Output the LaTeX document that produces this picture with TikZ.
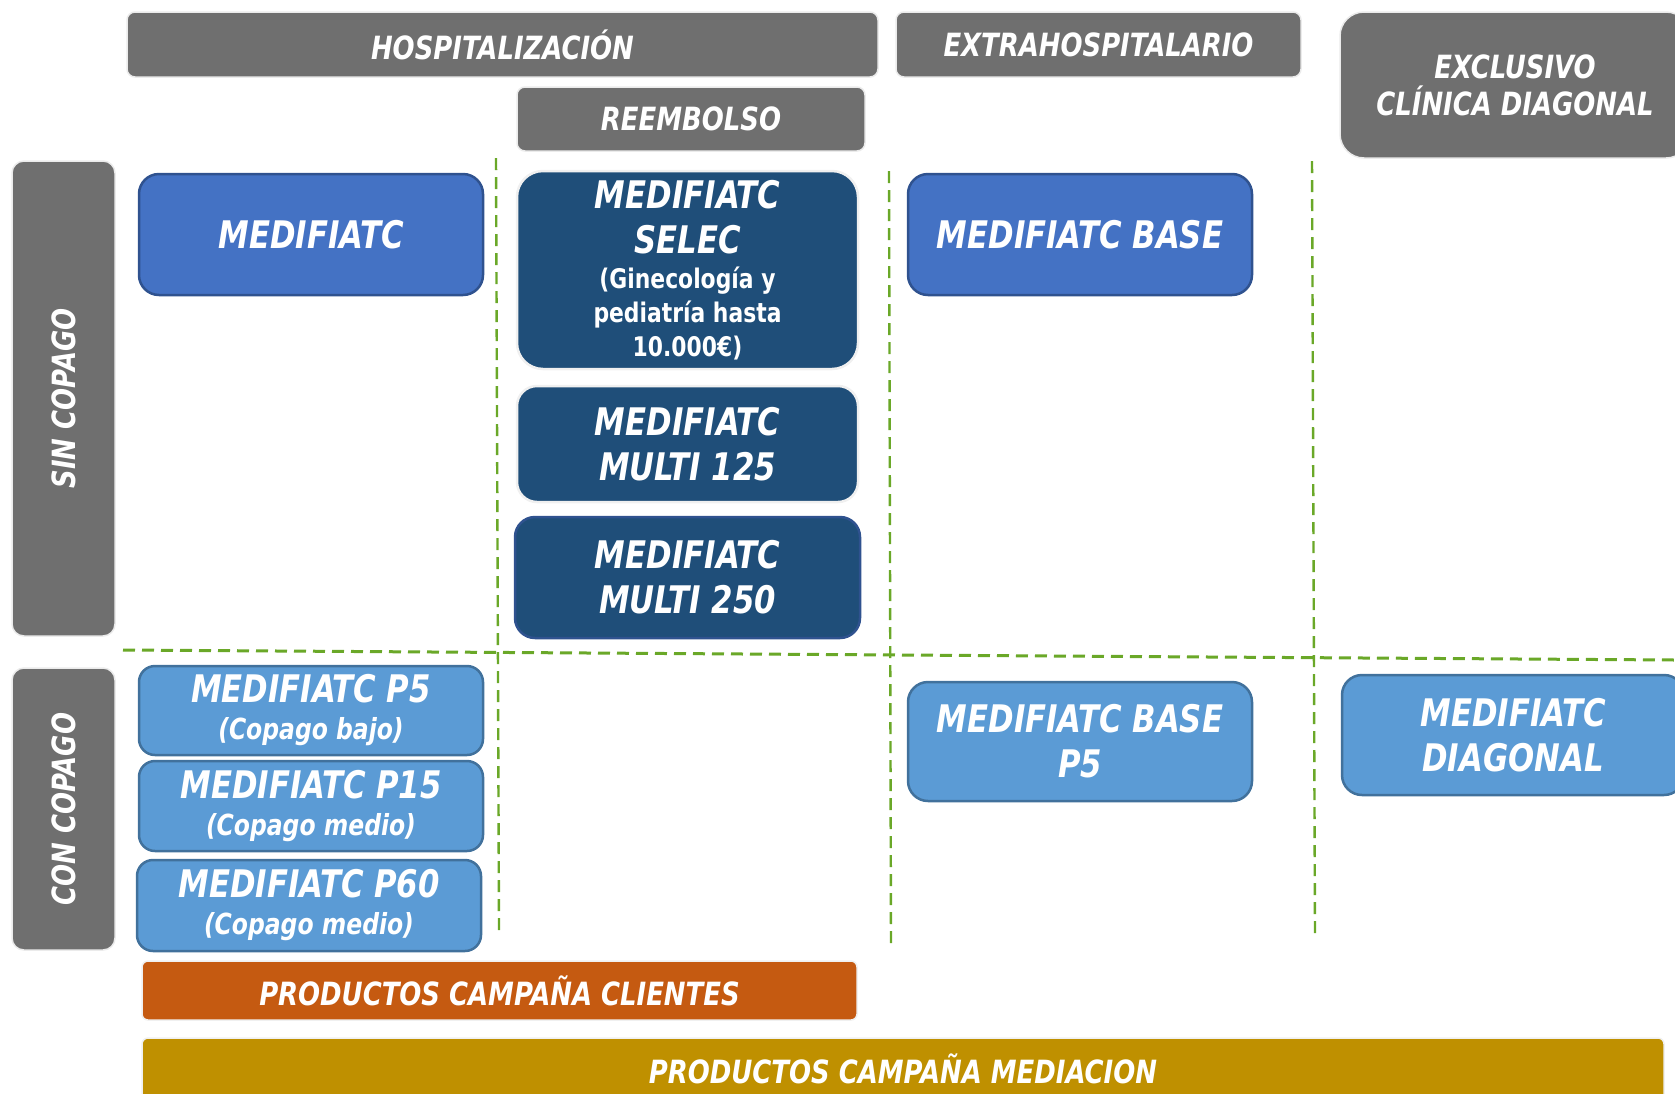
\documentclass[tikz,border=0pt]{standalone}
\usepackage{fontspec}
\setmainfont{DejaVu Sans Condensed}[FakeStretch=0.9]
\definecolor{hdrgray}{HTML}{6F6F6F}
\definecolor{medblue}{HTML}{4472C4}
\definecolor{medblueline}{HTML}{2F528F}
\definecolor{darkblue}{HTML}{1F4E79}
\definecolor{lightblue}{HTML}{5B9BD5}
\definecolor{lightblueline}{HTML}{41719C}
\definecolor{campaign}{HTML}{C55A11}
\definecolor{mediation}{HTML}{BF9000}
\definecolor{divgreen}{RGB}{106,168,40}
\newcommand\prodfont{\fontsize{38}{45}\selectfont\bfseries\itshape}
\newcommand\subtxt{\fontsize{29}{34}\selectfont}
\newcommand\selectxt{\fontsize{27}{34}\selectfont\bfseries\upshape}
\tikzset{
	hdr/.style={fill=hdrgray, draw=black!8, line width=1.5pt, rounded corners=8pt, text=white, inner sep=0pt, align=center,
		font=\fontsize{32}{37}\selectfont\bfseries\itshape},
	side/.style={hdr, rotate=90, rounded corners=12pt},
	prod/.style={rounded corners=20pt, line width=2.5pt, text=white, inner sep=0pt, align=center, font=\prodfont},
	prodA/.style={prod, fill=medblue, draw=medblueline},
	prodB/.style={prod, fill=darkblue, draw=black!6},
	prodC/.style={prod, fill=lightblue, draw=lightblueline, rounded corners=16pt},
	band/.style={hdr, draw=black!6, rounded corners=6pt},
	divider/.style={divgreen, line width=2.4pt, dash pattern=on 12pt off 7pt}
}
\begin{document}
\begin{tikzpicture}[x=1pt, y=-1pt]
\useasboundingbox (0,0) rectangle (1675,1093);

\draw[divider, line width=3pt] (123,650) -- (1675,660);
\draw[divider] (496,158) -- (499,932);
\draw[divider] (889,171) -- (891,948);
\draw[divider] (1312,161) -- (1315,938);

\node[hdr, minimum width=751pt, minimum height=65pt] (hosp) at (502.5,44.5) {HOSPITALIZACIÓN};
\node[hdr, minimum width=405pt, minimum height=65pt] (extra) at (1098.5,44.5) {EXTRAHOSPITALARIO};
\node[hdr, minimum width=350pt, minimum height=146pt, rounded corners=24pt] (excl) at (1515,85) {EXCLUSIVO\\CLÍNICA DIAGONAL};
\node[hdr, minimum width=348pt, minimum height=64pt] (reem) at (691,119) {REEMBOLSO};
\node[side, minimum width=475pt, minimum height=103pt] (sin) at (63.5,398.5) {SIN COPAGO};
\node[side, minimum width=282pt, minimum height=103pt] (con) at (63.5,809) {CON COPAGO};

\node[prodA, minimum width=344pt, minimum height=121pt] (medi) at (311,234.5) {MEDIFIATC};
\node[prodB, minimum width=341pt, minimum height=198pt, rounded corners=26pt] (selec) at (687.5,270)
	{MEDIFIATC\\SELEC\\[-10pt]\selectxt (Ginecología y\\[-11pt]\selectxt pediatría hasta\\[-11pt]\selectxt 10.000€)};
\node[prodB, minimum width=341pt, minimum height=116pt] (multi125) at (687.5,444) {MEDIFIATC\\MULTI 125};
\node[prodB, draw=medblueline, minimum width=345pt, minimum height=121pt] (multi250) at (687.5,577.5) {MEDIFIATC\\MULTI 250};
\node[prodA, minimum width=344pt, minimum height=121pt] (base) at (1080,234.5) {MEDIFIATC BASE};

\node[prodC, minimum width=344pt, minimum height=89pt] (p5) at (311,710.5) {MEDIFIATC P5\\[-8pt]\subtxt\bfseries\itshape (Copago bajo)};
\node[prodC, minimum width=344pt, minimum height=90pt] (p15) at (311,806) {MEDIFIATC P15\\[-8pt]\subtxt\bfseries\itshape (Copago medio)};
\node[prodC, minimum width=344pt, minimum height=91pt] (p60) at (309,905.5) {MEDIFIATC P60\\[-8pt]\subtxt\bfseries\itshape (Copago medio)};
\node[prodC, minimum width=344pt, minimum height=119pt, rounded corners=20pt] (basep5) at (1080,741.5) {MEDIFIATC BASE\\P5};
\node[prodC, minimum width=342pt, minimum height=120pt, rounded corners=20pt] (diag) at (1513,735) {MEDIFIATC\\DIAGONAL};

\node[band, fill=campaign, minimum width=715pt, minimum height=59pt] (clientes) at (499.5,990.5) {PRODUCTOS CAMPAÑA CLIENTES};
\node[band, fill=mediation, minimum width=1522pt, minimum height=62pt] (mediacion) at (903,1069) {PRODUCTOS CAMPAÑA MEDIACION};
\end{tikzpicture}
\end{document}
